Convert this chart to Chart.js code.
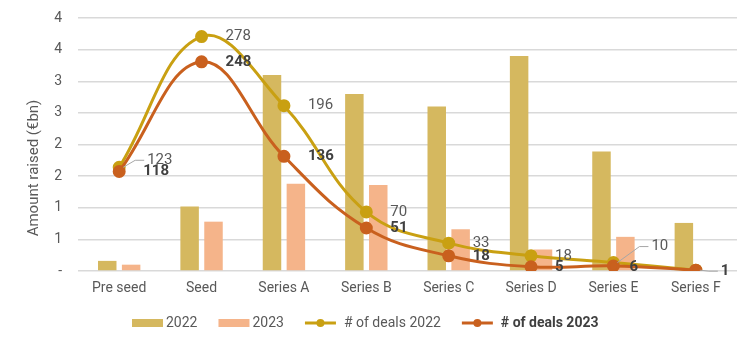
<!DOCTYPE html>
<html>
<head>
<meta charset="utf-8">
<script src="https://cdn.jsdelivr.net/npm/chart.js@4"></script>
<style>
  html, body { margin: 0; padding: 0; background: #fff; }
  #wrap { width: 756px; height: 348px; position: relative; }
</style>
</head>
<body>
<div id="wrap"><canvas id="myChart"></canvas></div>
<script>
// Data
var categories = ["Pre seed", "Seed", "Series A", "Series B", "Series C", "Series D", "Series E", "Series F"];
var raised2022 = [0.16, 1.02, 3.10, 2.80, 2.60, 3.40, 1.89, 0.76];
var raised2023 = [0.10, 0.78, 1.38, 1.36, 0.66, 0.34, 0.54, 0];
var deals2022 = [123, 278, 196, 70, 33, 18, 10, 1];
var deals2023 = [118, 248, 136, 51, 18, 5, 6, 1];
var yTickLabels = ["-", "1", "1", "2", "2", "3", "3", "4", "4"];
var yTitle = "Amount raised (\u20acbn)";

var FONT = "Roboto, 'Open Sans', sans-serif";
var GREY = "#595959";

// where the value labels sit, relative to their point (default: 24px right)
var labelShift = {
  "2:0": { dx: 28, dy: -7, leader: true },
  "2:6": { dx: 38, dy: -16, leader: true },
  "3:6": { dx: 16, dy: 1 },
  "3:7": { dx: 25, dy: 1, leader: true },
  "2:7": { hide: true }
};

var valueLabels = {
  id: "valueLabels",
  afterDatasetsDraw: function (chart) {
    var ctx = chart.ctx;
    chart.data.datasets.forEach(function (ds, di) {
      if (ds.type !== "line") return;
      var meta = chart.getDatasetMeta(di);
      meta.data.forEach(function (pt, i) {
        var s = labelShift[di + ":" + i] || {};
        if (s.hide) return;
        var dx = s.dx !== undefined ? s.dx : 24;
        var dy = s.dy || 0;
        ctx.save();
        if (s.leader) {
          ctx.strokeStyle = "#a6a6a6";
          ctx.lineWidth = 1;
          ctx.beginPath();
          ctx.moveTo(pt.x + 4, pt.y);
          ctx.lineTo(pt.x + dx - 12, pt.y + dy);
          ctx.lineTo(pt.x + dx - 3, pt.y + dy);
          ctx.stroke();
        }
        ctx.font = (ds.labelBold ? "bold " : "") + "15px " + FONT;
        ctx.fillStyle = ds.labelColor;
        ctx.textAlign = "left";
        ctx.textBaseline = "middle";
        ctx.fillText(String(ds.data[i]), pt.x + dx, pt.y + dy);
        ctx.restore();
      });
    });
  }
};

var sideTitle = {
  id: "sideTitle",
  afterDraw: function (chart) {
    var ctx = chart.ctx;
    ctx.save();
    ctx.translate(34, 168);
    ctx.rotate(-Math.PI / 2);
    ctx.font = "15px " + FONT;
    ctx.fillStyle = GREY;
    ctx.textAlign = "center";
    ctx.textBaseline = "middle";
    ctx.fillText(yTitle, 0, 0);
    ctx.restore();
  }
};

var bottomLegend = {
  id: "bottomLegend",
  afterDraw: function (chart) {
    var ctx = chart.ctx;
    var x = 132, y = 323;
    ctx.save();
    ctx.textBaseline = "middle";
    ctx.textAlign = "left";
    chart.data.datasets.forEach(function (ds) {
      if (ds.type === "bar") {
        ctx.fillStyle = ds.backgroundColor;
        ctx.fillRect(x, y - 4, 31, 8);
        x += 34;
      } else {
        ctx.strokeStyle = ds.borderColor;
        ctx.lineWidth = 3;
        ctx.beginPath();
        ctx.moveTo(x, y);
        ctx.lineTo(x + 31, y);
        ctx.stroke();
        ctx.fillStyle = ds.borderColor;
        ctx.beginPath();
        ctx.arc(x + 15.5, y, 4, 0, Math.PI * 2);
        ctx.fill();
        x += 39;
      }
      ctx.font = (ds.labelBold ? "bold " : "") + "14px " + FONT;
      ctx.fillStyle = ds.labelBold ? "#404040" : GREY;
      ctx.fillText(ds.label, x, y);
      x += ctx.measureText(ds.label).width + 21;
    });
    ctx.restore();
  }
};

var chart = new Chart(document.getElementById("myChart").getContext("2d"), {
  data: {
    labels: categories,
    datasets: [
      {
        type: "bar",
        label: "2022",
        data: raised2022,
        backgroundColor: "#d5b85f",
        yAxisID: "y",
        order: 2,
        categoryPercentage: 0.58,
        barPercentage: 0.774
      },
      {
        type: "bar",
        label: "2023",
        data: raised2023,
        backgroundColor: "#f5b48a",
        yAxisID: "y",
        order: 2,
        categoryPercentage: 0.58,
        barPercentage: 0.774
      },
      {
        type: "line",
        label: "# of deals 2022",
        data: deals2022,
        borderColor: "#c9a012",
        backgroundColor: "#c9a012",
        borderWidth: 3,
        pointRadius: 5,
        pointHoverRadius: 5,
        tension: 0.4,
        yAxisID: "y1",
        order: 1,
        labelColor: GREY,
        labelBold: false
      },
      {
        type: "line",
        label: "# of deals 2023",
        data: deals2023,
        borderColor: "#c9601e",
        backgroundColor: "#c9601e",
        borderWidth: 3,
        pointRadius: 5,
        pointHoverRadius: 5,
        tension: 0.4,
        yAxisID: "y1",
        order: 0,
        labelColor: "#404040",
        labelBold: true
      }
    ]
  },
  options: {
    responsive: true,
    maintainAspectRatio: false,
    animation: false,
    layout: { padding: { top: 18, right: 19, left: 0, bottom: 0 } },
    plugins: {
      legend: { display: false },
      tooltip: { enabled: false }
    },
    scales: {
      x: {
        grid: { display: false, drawTicks: false },
        border: { display: false },
        ticks: { color: GREY, font: { family: FONT, size: 14 }, padding: 9, maxRotation: 0 },
        afterFit: function (s) { s.height = 77; }
      },
      y: {
        position: "left",
        min: 0,
        max: 4,
        grid: { color: "#d9d9d9", lineWidth: 1.5, drawTicks: true, tickLength: 14, tickColor: "rgba(0,0,0,0)" },
        border: { display: false },
        ticks: {
          stepSize: 0.5,
          padding: 2,
          color: GREY,
          font: { family: FONT, size: 14 },
          callback: function (v, i) { return yTickLabels[i]; }
        },
        afterFit: function (s) { s.width = 78; }
      },
      y1: {
        display: false,
        min: 0,
        max: 300
      }
    }
  },
  plugins: [valueLabels, sideTitle, bottomLegend]
});
</script>
</body>
</html>
